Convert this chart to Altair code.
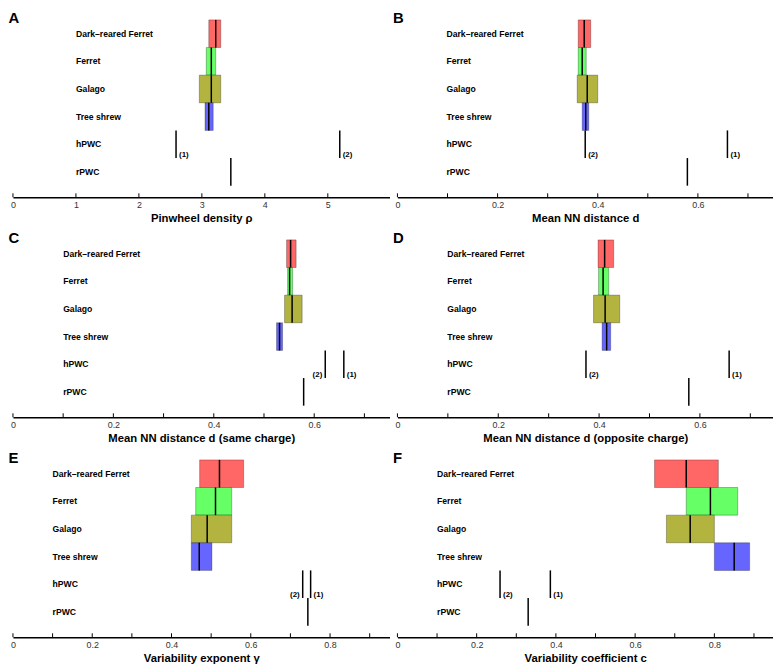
import altair as alt
import pandas as pd

FONT = "Liberation Sans"

rows = ["Dark–reared Ferret", "Ferret", "Galago", "Tree shrew", "hPWC", "rPWC"]
species = ["Dark–reared Ferret", "Ferret", "Galago", "Tree shrew"]
colors = ["#FF6666", "#66FF66", "#B3B340", "#6666FF"]
ref_tags = ["(1)", "(2)"]

# Panel A: pinwheel density
A_low = [3.11, 3.07, 2.96, 3.05]
A_high = [3.30, 3.22, 3.30, 3.18]
A_med = [3.22, 3.15, 3.15, 3.11]
A_hpwc = [2.59, 5.19]
A_rpwc = 3.46

# Panel B: mean NN distance
B_low = [0.361, 0.361, 0.359, 0.369]
B_high = [0.386, 0.377, 0.400, 0.382]
B_med = [0.373, 0.369, 0.379, 0.376]
B_hpwc = [0.659, 0.375]
B_rpwc = 0.579

# Panel C: mean NN distance (same charge)
C_low = [0.545, 0.547, 0.541, 0.525]
C_high = [0.564, 0.557, 0.576, 0.537]
C_med = [0.553, 0.551, 0.556, 0.531]
C_hpwc = [0.659, 0.622]
C_rpwc = 0.579

# Panel D: mean NN distance (opposite charge)
D_low = [0.398, 0.399, 0.389, 0.406]
D_high = [0.429, 0.419, 0.441, 0.423]
D_med = [0.411, 0.408, 0.412, 0.415]
D_hpwc = [0.658, 0.374]
D_rpwc = 0.578

# Panel E: variability exponent
E_low = [0.471, 0.461, 0.450, 0.450]
E_high = [0.582, 0.552, 0.552, 0.502]
E_med = [0.521, 0.511, 0.490, 0.470]
E_hpwc = [0.751, 0.731]
E_rpwc = 0.744

# Panel F: variability coefficient
F_low = [0.649, 0.729, 0.679, 0.800]
F_high = [0.810, 0.859, 0.800, 0.889]
F_med = [0.729, 0.790, 0.739, 0.850]
F_hpwc = [0.386, 0.259]
F_rpwc = 0.330

A_labels = [0, 1, 2, 3, 4, 5]
A_ticks = [0, 1, 2, 3, 4, 5]
BD_labels = [0, 0.2, 0.4, 0.6]
BD_ticks = [0, 0.1, 0.2, 0.3, 0.4, 0.5, 0.6, 0.7]
EF_labels = [0, 0.2, 0.4, 0.6, 0.8]
EF_ticks = [0, 0.1, 0.2, 0.3, 0.4, 0.5, 0.6, 0.7, 0.8, 0.9]

H = 179
YMAX = 6.42
OFF = 0.42


def row_pos(name):
    return 5 - rows.index(name)


def panel(letter, title, dmax, labels, ticks, low, high, med, hpwc, rpwc,
          label_x, left_tags, width):
    xs = alt.Scale(domain=[0, dmax], nice=False, zero=False)
    ys = alt.Scale(domain=[0, YMAX], nice=False, zero=False)
    box = pd.DataFrame({
        "species": species, "low": low, "high": high, "med": med,
        "y0": [row_pos(s) + OFF for s in species],
        "y1": [row_pos(s) + 1 + OFF for s in species],
    })
    ref = pd.DataFrame({
        "v": list(hpwc) + [rpwc],
        "tag": ref_tags + [""],
        "y0": [row_pos("hPWC") + OFF] * 2 + [row_pos("rPWC") + OFF],
        "y1": [row_pos("hPWC") + 1 + OFF] * 2 + [row_pos("rPWC") + 1 + OFF],
    })
    ref["yt"] = row_pos("hPWC") + OFF + 0.11
    tags = ref[ref["tag"] != ""]
    lab = pd.DataFrame({"row": rows, "x": [label_x] * 6,
                        "y": [row_pos(r) + 0.5 + OFF for r in rows]})
    tk = pd.DataFrame({"t": ticks})

    xaxis = alt.Axis(values=labels, format="~g", ticks=False, grid=False,
                     domainColor="black", domainWidth=1.6, labelFontSize=9,
                     labelColor="#333333", labelFont=FONT, labelPadding=3,
                     labelFlush=False, title=title, titleFont=FONT,
                     titleFontSize=11.4, titleFontWeight="bold",
                     titleColor="black", titlePadding=3)

    rect = alt.Chart(box).mark_rect(stroke="black", strokeOpacity=0.35,
                                    strokeWidth=0.8).encode(
        x=alt.X("low:Q", scale=xs, axis=xaxis),
        x2="high:Q",
        y=alt.Y("y0:Q", scale=ys, axis=None),
        y2="y1:Q",
        fill=alt.Fill("species:N", scale=alt.Scale(domain=species, range=colors),
                      legend=None),
    )
    medr = alt.Chart(box).mark_rule(color="black", strokeWidth=1.5).encode(
        x="med:Q", y="y0:Q", y2="y1:Q")
    refr = alt.Chart(ref).mark_rule(color="black", strokeWidth=1.5).encode(
        x="v:Q", y="y0:Q", y2="y1:Q")
    tag_right = alt.Chart(tags[~tags["tag"].isin(left_tags)]).mark_text(
        align="left", baseline="middle", dx=3, fontSize=8, fontWeight="bold",
        font=FONT, color="black").encode(x="v:Q", y="yt:Q", text="tag:N")
    tag_left = alt.Chart(tags[tags["tag"].isin(left_tags)]).mark_text(
        align="right", baseline="middle", dx=-3, fontSize=8, fontWeight="bold",
        font=FONT, color="black").encode(x="v:Q", y="yt:Q", text="tag:N")
    rowlab = alt.Chart(lab).mark_text(
        align="left", baseline="middle", fontSize=8.7, fontWeight="bold",
        font=FONT, color="black").encode(x="x:Q", y="y:Q", text="row:N")
    tickr = alt.Chart(tk).mark_rule(color="black", strokeWidth=1).encode(
        x="t:Q", y=alt.value(H), y2=alt.value(H - 4))

    return alt.layer(rect, medr, refr, tag_right, tag_left, rowlab, tickr).properties(
        width=width, height=H,
        title=alt.TitleParams(letter, anchor="start", fontSize=15,
                              fontWeight="bold", font=FONT, dx=-2, offset=-7,
                              color="black"),
    )


WL, WR = 380, 379
pA = panel("A", "Pinwheel density ρ", 5.98, A_labels, A_ticks, A_low, A_high,
           A_med, A_hpwc, A_rpwc, 1.0, [], WL)
pB = panel("B", "Mean NN distance d", 0.75, BD_labels, BD_ticks, B_low, B_high,
           B_med, B_hpwc, B_rpwc, 0.098, [], WR)
pC = panel("C", "Mean NN distance d (same charge)", 0.75, BD_labels, BD_ticks,
           C_low, C_high, C_med, C_hpwc, C_rpwc, 0.1, ["(2)"], WL)
pD = panel("D", "Mean NN distance d (opposite charge)", 0.745, BD_labels,
           BD_ticks, D_low, D_high, D_med, D_hpwc, D_rpwc, 0.099, [], WR)
pE = panel("E", "Variability exponent γ", 0.95, EF_labels, EF_ticks, E_low,
           E_high, E_med, E_hpwc, E_rpwc, 0.1, ["(2)"], WL)
pF = panel("F", "Variability coefficient c", 0.948, EF_labels, EF_ticks, F_low,
           F_high, F_med, F_hpwc, F_rpwc, 0.1, [], WR)

chart = alt.concat(
    pA, pB, pC, pD, pE, pF, columns=2,
    spacing=alt.RowColnumber(row=43, column=8), bounds="flush",
).properties(padding=0).configure_view(stroke=None)

chart.save("out.html", embed_options={"renderer": "svg", "actions": False})
